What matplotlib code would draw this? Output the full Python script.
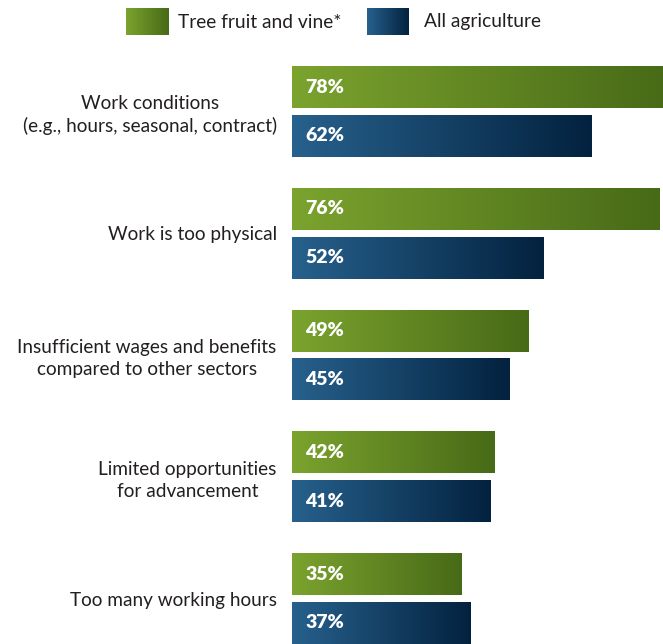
import numpy as np
import matplotlib.pyplot as plt
from matplotlib.colors import LinearSegmentedColormap

categories = [
    "Work conditions\n(e.g., hours, seasonal, contract)",
    "Work is too physical",
    "Insufficient wages and benefits\ncompared to other sectors",
    "Limited opportunities\nfor advancement",
    "Too many working hours",
]
tree_fruit = [78, 76, 49, 42, 35]
all_agri = [62, 52, 45, 41, 37]
series_names = ["Tree fruit and vine*", "All agriculture"]

green = LinearSegmentedColormap.from_list("g", ["#7BA32E", "#476A17"])
blue = LinearSegmentedColormap.from_list("b", ["#27618D", "#03223F"])
grad = np.linspace(0, 1, 256).reshape(1, -1)

plt.rcParams['font.family'] = ['Lato', 'DejaVu Sans']
fig = plt.figure(figsize=(6.63, 6.44), dpi=100)
ax = fig.add_axes([292 / 663, 0, 371 / 663, 578 / 644])

y = np.arange(len(categories))
off = 0.2
h = 0.345

for vals, cmap, dy in [(tree_fruit, green, -off), (all_agri, blue, off)]:
    bars = ax.barh(y + dy, vals, height=h, color="none", edgecolor="none")
    for b, v in zip(bars, vals):
        x0, y0 = b.get_x(), b.get_y()
        im = ax.imshow(grad, cmap=cmap, aspect="auto",
                       extent=[x0, x0 + b.get_width(), y0 + b.get_height(), y0],
                       zorder=2)
        im.set_clip_path(b)
        ax.annotate(f"{v}%", xy=(0, b.get_y() + b.get_height() / 2),
                    xytext=(9.5, 0), textcoords="offset points",
                    ha="left", va="center", color="white",
                    fontsize=14, fontweight="heavy", zorder=3)

ax.set_xlim(0, 371 / 4.83)
ax.set_ylim(len(categories) - 1 + off + h / 2, -off - h / 2)
ax.set_yticks(y)
ax.set_yticklabels(categories, fontsize=13.7, color="#231F20",
                   multialignment="center", linespacing=1.3)
ax.tick_params(axis="y", length=0, pad=11)
ax.set_xticks([])
for s in ax.spines.values():
    s.set_visible(False)

# legend
for (left, width), cmap, name, tx in [((126, 43), green, series_names[0], 178),
                                      ((367, 42), blue, series_names[1], 424)]:
    lax = fig.add_axes([left / 663, 1 - 35 / 644, width / 663, 27 / 644])
    lax.imshow(grad, cmap=cmap, aspect="auto")
    lax.axis("off")
    fig.text(tx / 663, 1 - 22 / 644, name, fontsize=13.8, color="#231F20",
             ha="left", va="center")

fig.savefig("out.png", dpi=100)
